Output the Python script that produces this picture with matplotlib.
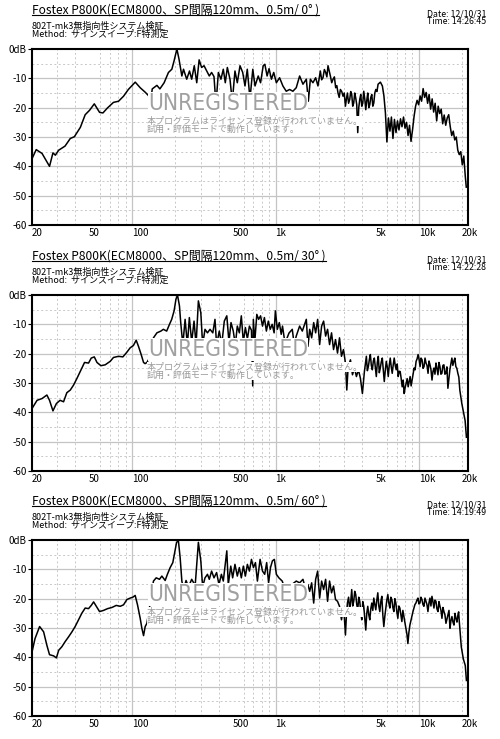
import matplotlib
matplotlib.use("Agg")
import matplotlib.pyplot as plt
from matplotlib.lines import Line2D

plt.rcParams["font.family"] = ["Noto Sans CJK JP", "DejaVu Sans"]

freq_0 = [20, 21.4, 23.5, 26.5, 28.0, 29.1, 30.7, 34, 37, 39.5,
          43.5, 47, 50.4, 54.4, 59.2, 62.5, 67.2, 74, 80.3, 87,
          94, 105, 113.7, 123, 130, 134, 138, 148.7, 156, 167,
          179, 189, 196, 205, 212, 222, 228, 240, 251, 260,
          271, 282, 293, 305, 317, 331, 345, 358, 372, 384,
          399, 416, 432, 446, 461, 481, 499, 521, 541, 565,
          590, 612, 635, 663, 694, 719, 757, 786, 820, 842,
          873, 901, 936, 971, 1013, 1067, 1125, 1187, 1253, 1321,
          1394, 1472, 1553, 1639, 1693, 1749, 1823, 1904, 1976, 2053,
          2142, 2237, 2322, 2412, 2517, 2627, 2726, 2833, 2956, 3072,
          3172, 3291, 3399, 3510, 3625, 3744, 3866, 3993, 4124, 4259,
          4398, 4542, 4691, 4845, 5004, 5190, 5387, 5561, 5700, 5840,
          5980, 6130, 6280, 6430, 6590, 6750, 6920, 7090, 7260, 7440,
          7620, 7810, 8000, 8200, 8400, 8600, 8810, 9030, 9250, 9480,
          9710, 9950, 10190, 10440, 10700, 10960, 11230, 11500, 11780, 12070,
          12370, 12670, 12980, 13300, 13630, 13960, 14300, 14650, 15010, 15380,
          15760, 16140, 16540, 16940, 17360, 17780, 18220, 18670, 19120, 19590,
          20070, 20560, 21070, 21400]
db_0 = [-37.4, -34.3, -35.6, -40.0, -35.4, -36.2, -34.5, -33.1, -30.5, -29.9,
        -26.7, -22.4, -20.9, -18.7, -21.6, -21.8, -20.1, -18.2, -17.8, -16.1,
        -13.8, -11.3, -13.2, -14.7, -15.9, -18.5, -13.6, -12.4, -13.6, -11.5,
        -8.0, -6.9, -4.0, 0.0, -3.4, -9.2, -6.9, -10.3, -7.5, -10.3,
        -5.7, -11.5, -3.7, -6.3, -5.7, -7.5, -9.2, -8.0, -9.4, -19.0,
        -8.0, -10.3, -6.9, -11.5, -6.3, -10.3, -18.0, -7.5, -11.5, -5.7,
        -8.0, -12.6, -6.9, -17.0, -6.9, -12.6, -9.2, -11.5, -5.7, -5.2,
        -9.2, -6.7, -10.3, -8.0, -11.5, -9.8, -12.6, -14.4, -13.8, -14.4,
        -13.2, -9.2, -12.0, -10.3, -17.8, -10.3, -11.5, -9.8, -12.6, -7.5,
        -9.8, -8.0, -5.7, -9.2, -10.3, -13.2, -15.0, -13.8, -16.1, -19.5,
        -15.0, -17.2, -15.5, -18.4, -16.7, -28.5, -17.2, -19.5, -14.4, -20.7,
        -15.0, -19.0, -15.5, -18.4, -13.8, -12.0, -11.3, -12.6, -16.0, -21.8,
        -31.7, -23.5, -28.0, -23.2, -30.5, -24.0, -28.5, -24.5, -27.6, -23.8,
        -26.5, -23.2, -27.0, -25.0, -29.5, -26.0, -31.5, -27.5, -23.0, -19.5,
        -17.5, -19.0, -16.0, -17.8, -13.5, -16.5, -14.8, -18.5, -15.5, -20.5,
        -17.0, -21.5, -18.5, -24.5, -19.5, -22.0, -20.5, -25.5, -22.5, -26.0,
        -23.5, -22.4, -26.5, -29.5, -28.0, -31.0, -30.0, -34.5, -36.0, -35.0,
        -39.5, -36.5, -43.5, -47.1]
# extra ripple read between the points above (2k-5k)
freq_0_ripple = [2097, 2190, 2280, 2367, 2465, 2572, 2677, 2780, 2895, 3014,
                 3122, 3231, 3345, 3454, 3567, 3684, 3805, 3929, 4058, 4191,
                 4328, 4470, 4616, 4768, 4924, 5097]
db_0_ripple = [-10.5, -7.0, -9.5, -7.5, -11.5, -9.5, -12.5, -16.5, -14.5, -15.0,
               -17.0, -18.5, -14.5, -19.5, -15.0, -19.0, -20.0, -15.5, -18.5, -17.0,
               -17.5, -20.0, -16.5, -19.5, -15.0, -14.5]

freq_30 = [20, 21.7, 23.5, 25.4, 26.5, 28, 29.6, 31.4, 33.2, 35,
           37, 39, 41.2, 43.4, 46.5, 49.6, 51.8, 54.4, 56.8, 60.5,
           64.8, 70.3, 74, 80.3, 86.1, 91.8, 96.8, 102, 106.6, 110.6,
           115.5, 120, 123, 126.6, 134, 140.7, 148.7, 158.5, 165, 174,
           182, 188.6, 196, 202, 207, 213.6, 218, 225.5, 233.9, 242.6,
           250.4, 260, 270, 279, 289.5, 301, 310, 322, 335, 349,
           365, 378, 388, 405, 421, 439, 457, 473, 489, 507,
           524, 541, 559, 577, 596, 616, 636, 657, 679, 693,
           700, 716, 740, 762, 786, 811, 836, 863, 890, 918,
           947, 977, 997, 1029, 1062, 1095, 1118, 1164, 1240, 1308,
           1350, 1394, 1472, 1537, 1596, 1639, 1682, 1730, 1786, 1845,
           1904, 1966, 2030, 2096, 2164, 2234, 2306, 2381, 2458, 2538,
           2620, 2705, 2793, 2883, 2977, 3073, 3140, 3210, 3330, 3440,
           3550, 3665, 3785, 3908, 4035, 4166, 4300, 4440, 4584, 4733,
           4887, 5045, 5209, 5378, 5553, 5733, 5919, 6111, 6310, 6514,
           6726, 6944, 7170, 7403, 7643, 7891, 8147, 8412, 8685, 8967,
           9258, 9558, 9869, 10190, 10520, 10860, 11210, 11580, 11950, 12340,
           12740, 13150, 13580, 14020, 14470, 14940, 15430, 15930, 16440, 16980,
           17530, 18100, 18690, 19290, 19920, 20570, 21000, 21450]
db_30 = [-38.7, -35.9, -35.3, -34.1, -35.9, -39.5, -37.0, -35.9, -36.4, -33.3,
         -32.4, -30.7, -28.4, -26.1, -23.0, -23.2, -21.5, -21.1, -23.0, -24.1,
         -23.8, -22.6, -21.3, -20.9, -21.1, -19.5, -18.0, -17.2, -15.4, -17.5,
         -20.3, -23.0, -23.4, -23.0, -21.0, -14.6, -12.9, -12.3, -11.7, -12.3,
         -10.0, -8.3, -5.4, -1.4, 0.0, -3.7, -9.4, -17.0, -8.3, -17.0,
         -7.7, -16.0, -8.9, -17.0, -2.0, -6.0, -17.0, -11.7, -12.9, -11.7,
         -12.9, -8.3, -17.0, -12.3, -17.0, -8.9, -7.1, -16.0, -9.4, -12.3,
         -17.0, -10.6, -12.9, -7.1, -16.0, -11.1, -15.0, -10.6, -12.0, -31.0,
         -8.3, -16.0, -6.6, -8.3, -7.1, -10.6, -7.7, -12.3, -8.9, -11.7,
         -10.0, -12.9, -5.4, -11.7, -9.4, -13.4, -10.6, -16.5, -13.0, -11.7,
         -17.0, -14.0, -10.6, -12.3, -10.0, -8.3, -17.5, -11.7, -14.6, -9.4,
         -12.9, -8.3, -16.9, -10.6, -8.9, -14.0, -11.7, -16.9, -12.9, -18.6,
         -15.2, -19.8, -14.6, -20.9, -18.6, -23.2, -32.4, -24.4, -22.1, -27.2,
         -24.9, -27.8, -25.5, -28.4, -33.6, -26.1, -20.9, -24.4, -20.3, -25.5,
         -21.5, -27.8, -20.9, -24.9, -21.5, -29.5, -22.6, -27.8, -21.5, -26.7,
         -21.5, -25.5, -27.8, -26.1, -31.3, -33.6, -30.1, -31.3, -27.8, -29.0,
         -24.9, -22.6, -20.3, -24.4, -22.1, -24.4, -23.2, -26.7, -23.8, -29.0,
         -24.9, -23.2, -27.2, -24.4, -26.7, -23.8, -26.7, -31.8, -25.5, -21.5,
         -22.6, -24.4, -26.7, -32.4, -37.0, -40.5, -42.8, -48.5]
freq_30_ripple = [4233, 4370, 4512, 4658, 4810, 4966, 5127, 5293, 5465, 5643,
                  5826, 6015, 6210, 6412, 6620, 6835, 7057, 7286, 7522, 7766,
                  8019, 8279, 8548, 8826, 9112, 9407, 9712, 10030, 10350, 10690,
                  11030, 11390, 11760, 12140, 12540, 12940, 13360, 13800, 14240, 14700,
                  15180, 15680, 16180, 16710, 17250, 17810, 18390, 18990]
db_30_ripple = [-23.5, -25.8, -22.0, -24.0, -22.5, -24.8, -23.0, -26.5, -22.8, -25.5,
                -25.8, -24.5, -24.0, -24.5, -23.8, -24.0, -23.5, -26.0, -28.5, -29.0,
                -31.5, -28.5, -29.5, -31.0, -27.0, -25.5, -21.8, -22.0, -21.5, -25.0,
                -21.5, -24.0, -22.5, -25.5, -26.0, -27.0, -25.0, -23.0, -27.0, -24.0,
                -27.0, -24.5, -28.5, -23.5, -24.0, -21.5, -25.0, -28.0]

freq_60 = [20, 21, 22.6, 24.1, 25.4, 26.5, 28.3, 29.6, 30.7, 32.3,
           34, 36, 38, 40, 42.2, 44.6, 47, 49.6, 51.8, 53.8,
           56.2, 59.2, 63.1, 67.3, 72.2, 77.4, 82.5, 87, 91.8, 96.8,
           101, 104.9, 108.9, 113.7, 116.8, 120, 123.2, 126.6, 133, 140.7,
           147, 155, 161, 169.8, 176, 184, 192, 199, 204, 210,
           216, 222, 228, 237.5, 247, 260, 275, 289.5, 301, 310,
           322, 335, 345, 358, 372, 388, 403, 419, 432, 457,
           468, 487, 502, 521, 541, 559, 577, 596, 616, 636,
           657, 679, 701, 724, 747, 780, 811, 840, 867, 894,
           922, 951, 981, 1013, 1055, 1113, 1168, 1297, 1394, 1472,
           1553, 1623, 1682, 1730, 1786, 1845, 1904, 1966, 2030, 2096,
           2164, 2234, 2306, 2381, 2458, 2538, 2620, 2705, 2793, 2883,
           2977, 3073, 3172, 3291, 3399, 3510, 3625, 3744, 3866, 3993,
           4124, 4259, 4398, 4542, 4691, 4845, 5004, 5167, 5336, 5511,
           5691, 5878, 6070, 6269, 6474, 6686, 6905, 7131, 7365, 7606,
           7855, 8112, 8378, 8652, 8935, 9228, 9530, 9842, 10160, 10500,
           10840, 11200, 11560, 11940, 12330, 12730, 13150, 13580, 14020, 14480,
           14950, 15440, 15950, 16470, 17000, 17560, 18130, 18720, 19130, 19750,
           20400, 21060, 21450]
db_60 = [-38.2, -33.6, -29.5, -31.3, -35.9, -39.1, -39.5, -40.2, -37.6, -36.4,
         -34.7, -33.0, -31.3, -29.5, -27.2, -24.9, -23.2, -23.4, -22.3, -21.1,
         -22.6, -24.4, -24.0, -23.4, -23.0, -22.3, -22.6, -22.1, -20.3, -19.8,
         -19.5, -18.9, -22.1, -26.7, -30.1, -32.6, -29.5, -28.4, -22.0, -14.0,
         -12.9, -13.4, -12.3, -13.8, -11.7, -9.4, -7.7, -3.7, -0.8, -0.2,
         -6.0, -14.0, -17.0, -13.8, -16.0, -13.4, -15.5, -0.8, -7.1, -16.0,
         -12.9, -11.7, -13.4, -10.6, -12.9, -11.1, -15.2, -11.7, -14.0, -3.7,
         -15.2, -8.9, -12.9, -8.3, -12.3, -9.4, -12.9, -8.9, -12.3, -8.3,
         -10.6, -6.6, -9.4, -7.7, -14.0, -6.6, -10.6, -11.7, -7.7, -14.6,
         -9.4, -7.1, -6.6, -11.7, -12.9, -14.0, -17.0, -15.2, -14.0, -14.6,
         -13.4, -16.9, -15.2, -17.5, -14.6, -21.5, -13.4, -10.6, -19.8, -14.0,
         -16.9, -13.4, -20.9, -14.0, -18.0, -15.7, -20.3, -20.9, -22.6, -27.2,
         -23.2, -32.4, -21.5, -23.8, -16.9, -20.9, -18.6, -23.8, -20.9, -27.2,
         -22.6, -30.7, -22.6, -27.2, -21.5, -19.8, -23.8, -18.0, -24.4, -19.2,
         -29.5, -23.2, -18.6, -23.2, -20.3, -24.4, -21.5, -26.7, -23.2, -27.8,
         -26.1, -30.1, -35.3, -29.0, -26.1, -23.2, -21.5, -19.8, -21.5, -20.3,
         -22.6, -20.9, -24.4, -19.8, -19.2, -23.2, -20.9, -24.4, -22.6, -26.7,
         -24.4, -28.4, -25.5, -30.1, -26.1, -29.0, -26.7, -25.5, -27.8, -36.4,
         -40.5, -42.8, -47.9]
freq_60_ripple = [3025, 3122, 3231, 3345, 3454, 3567, 3684, 3805, 3929, 4058,
                  4191, 4328, 4470, 4616, 4768, 4924, 5085, 5251, 5423, 5600,
                  5784, 5973, 6169, 6371, 6579, 6795, 7017, 7247, 7484, 7729,
                  7982, 8244, 8514, 8792, 9080, 9378, 9685, 10000, 10330, 10670,
                  11020, 11380, 11750, 12130, 12530, 12940, 13360, 13800, 14250, 14710,
                  15190, 15690, 16210, 16730, 17280, 17840, 18420, 18930]
db_60_ripple = [-27.0, -25.5, -19.5, -21.0, -22.5, -17.5, -22.0, -19.5, -24.5, -21.0,
                -26.5, -25.0, -25.5, -23.5, -24.0, -22.0, -20.5, -22.5, -21.0, -25.5,
                -26.0, -20.5, -21.5, -19.5, -23.0, -20.0, -24.5, -22.5, -25.5, -24.0,
                -28.0, -32.0, -31.5, -27.5, -24.5, -22.0, -20.5, -21.8, -19.5, -22.0,
                -19.8, -22.0, -21.5, -22.5, -21.0, -20.5, -23.5, -21.0, -24.0, -23.0,
                -25.5, -27.0, -24.0, -27.5, -28.0, -25.0, -28.0, -24.5]

angles = ["0°", "30°", "60°"]
times = ["14:26:45", "14:22:28", "14:19:49"]
date = "12/10/31"
subtitle = "802T-mk3無指向性システム検証"
method = "Method:  サインスイープ:F特測定"
watermark = "UNREGISTERED"
notice_1 = "本プログラムはライセンス登録が行われていません。"
notice_2 = "試用・評価モードで動作しています。"

xtick_values = [20, 50, 100, 500, 1000, 5000, 10000, 20000]
xtick_labels = ["20", "50", "100", "500", "1k", "5k", "10k", "20k"]
xminor_values = [30, 40, 60, 70, 80, 90, 200, 300, 400, 600, 700, 800, 900,
                 2000, 3000, 4000, 6000, 7000, 8000, 9000, 20000]
ytick_values = [0, -10, -20, -30, -40, -50, -60]
ytick_labels = ["0dB", "-10", "-20", "-30", "-40", "-50", "-60"]


def merge(freq, db, freq_extra, db_extra):
    pairs = sorted(zip(freq + freq_extra, db + db_extra))
    return [p[0] for p in pairs], [p[1] for p in pairs]


W, H = 500, 739
fig = plt.figure(figsize=(W / 100, H / 100), dpi=100)

curves = [merge(freq_0, db_0, freq_0_ripple, db_0_ripple),
          merge(freq_30, db_30, freq_30_ripple, db_30_ripple),
          merge(freq_60, db_60, freq_60_ripple, db_60_ripple)]
axes_top = [49, 295, 540]
titles = []

for i, (freq, db) in enumerate(curves):
    top = axes_top[i]
    ax = fig.add_axes([32 / W, 1 - (top + 176) / H, 436 / W, 176 / H])
    ax.plot(freq, db, color="black", lw=1.1, zorder=2)
    ax.set_xscale("log")
    ax.set_xlim(20, 22000)
    ax.set_ylim(-60, 0)

    for x in [100, 1000, 10000]:
        ax.axvline(x, color="#c4c4c4", lw=0.9, zorder=1)
    for x in xminor_values:
        ax.axvline(x, color="#c8c8c8", lw=0.7, ls=(0, (2, 2.5)), zorder=1)
    for y in range(-50, 0, 10):
        ax.axhline(y, color="#c4c4c4", lw=0.9, zorder=1)
    for y in range(-55, 0, 10):
        ax.axhline(y, color="#c8c8c8", lw=0.7, ls=(0, (2, 2.5)), zorder=1)

    ax.set_xticks(xtick_values)
    ax.set_xticklabels(xtick_labels, ha="left", fontsize=7)
    ax.xaxis.set_minor_locator(plt.NullLocator())
    ax.tick_params(axis="x", length=0, pad=2)
    ax.set_yticks(ytick_values)
    ax.set_yticklabels(ytick_labels, fontsize=7)
    ax.tick_params(axis="y", length=3, width=0.8, pad=1)
    for s in ax.spines.values():
        s.set_linewidth(1.5)

    # trial-mode watermark, drawn on white boxes that hide the curve
    ax.text(0.266, 0.693, watermark, transform=ax.transAxes, fontsize=16.3,
            family=["Liberation Sans Narrow", "DejaVu Sans"], fontstretch="condensed",
            color="#a0a0a0", ha="left", va="center", zorder=5,
            bbox=dict(facecolor="white", edgecolor="none", pad=0))
    ax.text(0.264, 0.591, notice_1, transform=ax.transAxes, fontsize=6.5,
            color="#9a9a9a", ha="left", va="center", zorder=5,
            bbox=dict(facecolor="white", edgecolor="none", pad=0))
    ax.text(0.264, 0.545, notice_2, transform=ax.transAxes, fontsize=6.5,
            color="#9a9a9a", ha="left", va="center", zorder=5,
            bbox=dict(facecolor="white", edgecolor="none", pad=0))

    t = fig.text(32 / W, 1 - (top - 39) / H,
                 f"Fostex P800K(ECM8000、SP間隔120mm、0.5m/ {angles[i]} )",
                 fontsize=8.6, ha="left", va="center")
    titles.append(t)
    fig.text(32 / W, 1 - (top - 18.5) / H, subtitle + "\n" + method,
             fontsize=6.5, ha="left", va="center", linespacing=0.85)
    fig.text(427 / W, 1 - (top - 31) / H, f"Date: {date}\nTime: {times[i]}",
             fontsize=6.3, ha="left", va="center", linespacing=0.75)

# underline the titles
renderer = fig.canvas.get_renderer()
for t in titles:
    bb = t.get_window_extent(renderer)
    y = (bb.y0 + 2) / H
    fig.add_artist(Line2D([bb.x0 / W, bb.x1 / W], [y, y], color="black", lw=0.8))

fig.savefig("out.png", dpi=100)
